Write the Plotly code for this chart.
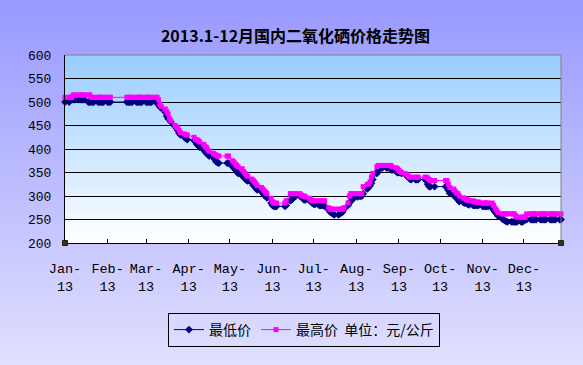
import plotly.graph_objects as go

# ---------------- data ----------------
days_jan = [4, 7, 8, 9, 10, 11, 14, 15, 16, 17, 18, 21, 22, 23, 24, 25, 28, 29, 30, 31]
low_jan = [500, 500, 505, 505, 505, 505, 505, 505, 505, 505, 505, 500, 500, 500, 500, 500, 500, 500, 500, 500]
high_jan = [510, 510, 510, 510, 515, 515, 515, 515, 515, 515, 515, 515, 515, 510, 510, 510, 510, 510, 510, 510]

days_feb = [1, 4, 5, 6, 18, 19, 20, 21, 22, 25, 26, 27, 28]
low_feb = [500, 500, 500, 500, 500, 500, 500, 500, 500, 500, 500, 500, 500]
high_feb = [510, 510, 510, 510, 510, 510, 510, 510, 510, 510, 510, 510, 510]

days_mar = [1, 4, 5, 6, 7, 8, 11, 12, 13, 14, 15, 18, 19, 20, 21, 22, 25, 26, 27, 28, 29]
low_mar = [500, 500, 500, 500, 500, 500, 500, 500, 495, 490, 487, 478, 470, 465, 462, 458, 448, 445, 440, 434, 430]
high_mar = [510, 510, 510, 510, 510, 510, 510, 510, 505, 495, 490, 485, 480, 475, 465, 460, 450, 447, 445, 440, 435]

days_apr = [1, 2, 3, 8, 9, 10, 11, 12, 15, 16, 17, 18, 19, 22, 23, 24, 25, 26]
low_apr = [425, 422, 420, 418, 415, 410, 407, 404, 398, 394, 391, 388, 385, 383, 378, 373, 371, 370]
high_apr = [432, 430, 430, 425, 420, 420, 418, 415, 410, 405, 403, 398, 395, 391, 388, 387, 385, 385]

days_may = [2, 3, 6, 7, 8, 9, 10, 13, 14, 15, 16, 17, 20, 21, 22, 23, 24, 27, 28, 29, 30, 31]
low_may = [370, 370, 362, 360, 356, 352, 348, 343, 340, 337, 334, 332, 328, 323, 320, 316, 313, 310, 306, 302, 299, 296]
high_may = [385, 385, 375, 372, 368, 365, 362, 358, 352, 348, 345, 342, 336, 333, 330, 326, 322, 318, 315, 311, 308, 305]

days_jun = [3, 4, 5, 6, 7, 13, 14, 17, 18, 19, 20, 21, 24, 25, 26, 27, 28]
low_jun = [285, 280, 278, 278, 278, 278, 280, 290, 292, 295, 300, 300, 300, 298, 295, 292, 292]
high_jun = [295, 288, 285, 285, 285, 285, 290, 305, 305, 305, 305, 305, 305, 302, 300, 300, 298]

days_jul = [1, 2, 3, 4, 5, 8, 9, 10, 11, 12, 15, 16, 17, 18, 19, 22, 23, 24, 25, 26, 29, 30, 31]
low_jul = [290, 288, 285, 283, 282, 280, 280, 280, 280, 278, 270, 266, 264, 262, 260, 260, 262, 264, 266, 272, 280, 285, 290]
high_jul = [295, 292, 290, 290, 290, 290, 290, 290, 290, 290, 275, 272, 272, 272, 272, 272, 272, 272, 272, 275, 285, 300, 305]

days_aug = [1, 2, 5, 6, 7, 8, 9, 12, 13, 14, 15, 16, 19, 20, 21, 22, 23, 26, 27, 28, 29, 30]
low_aug = [292, 295, 298, 300, 300, 300, 305, 315, 318, 322, 327, 335, 348, 355, 360, 360, 360, 360, 360, 360, 360, 355]
high_aug = [305, 305, 305, 305, 305, 305, 320, 325, 325, 330, 340, 348, 362, 365, 365, 365, 365, 365, 365, 365, 365, 362]

days_sep = [2, 3, 4, 5, 6, 9, 10, 11, 12, 13, 16, 17, 18, 23, 24, 25, 26, 27, 30]
low_sep = [352, 350, 350, 350, 348, 345, 342, 340, 336, 335, 335, 335, 335, 335, 335, 325, 320, 320, 320]
high_sep = [360, 358, 355, 352, 350, 347, 345, 342, 340, 340, 340, 340, 340, 340, 340, 338, 335, 333, 333]

days_oct = [8, 9, 10, 11, 14, 15, 16, 17, 18, 21, 22, 23, 24, 25, 28, 29, 30, 31]
low_oct = [320, 318, 312, 306, 302, 298, 296, 292, 288, 286, 285, 285, 283, 281, 280, 280, 280, 280]
high_oct = [333, 333, 325, 318, 315, 310, 306, 305, 300, 296, 295, 292, 292, 290, 290, 288, 287, 287]

days_nov = [1, 4, 5, 6, 7, 8, 11, 12, 13, 14, 15, 18, 19, 20, 21, 22, 25, 26, 27, 28, 29]
low_nov = [280, 278, 278, 278, 278, 278, 274, 270, 266, 262, 258, 252, 250, 248, 246, 245, 245, 245, 245, 245, 245]
high_nov = [287, 285, 285, 285, 285, 285, 285, 280, 274, 270, 265, 262, 262, 262, 262, 262, 262, 262, 262, 258, 255]

days_dec = [2, 3, 4, 5, 6, 9, 10, 11, 12, 13, 16, 17, 18, 19, 20, 23, 24, 25, 26, 27, 30, 31]
low_dec = [245, 245, 247, 250, 250, 250, 250, 250, 250, 250, 250, 250, 250, 250, 250, 250, 250, 250, 250, 250, 250, 250]
high_dec = [255, 255, 255, 255, 262, 262, 262, 262, 262, 262, 262, 262, 262, 262, 262, 262, 262, 262, 262, 262, 262, 262]

tick_dates = ["2013-01-04", "2013-02-04", "2013-03-04", "2013-04-04", "2013-05-04", "2013-06-04",
              "2013-07-04", "2013-08-04", "2013-09-04", "2013-10-04", "2013-11-04", "2013-12-04"]
tick_labels = ["Jan-<br>13", "Feb-<br>13", "Mar-<br>13", "Apr-<br>13", "May-<br>13", "Jun-<br>13",
               "Jul-<br>13", "Aug-<br>13", "Sep-<br>13", "Oct-<br>13", "Nov-<br>13", "Dec-<br>13"]

title_text = "2013.1-12月国内二氧化硒价格走势图"
name_low = "最低价"
name_high = "最高价  单位：元/公斤"

# ---------------- assemble ----------------
months = [
    (1, days_jan, low_jan, high_jan), (2, days_feb, low_feb, high_feb),
    (3, days_mar, low_mar, high_mar), (4, days_apr, low_apr, high_apr),
    (5, days_may, low_may, high_may), (6, days_jun, low_jun, high_jun),
    (7, days_jul, low_jul, high_jul), (8, days_aug, low_aug, high_aug),
    (9, days_sep, low_sep, high_sep), (10, days_oct, low_oct, high_oct),
    (11, days_nov, low_nov, high_nov), (12, days_dec, low_dec, high_dec),
]
dates, low, high = [], [], []
for m, ds, lo, hi in months:
    assert len(ds) == len(lo) == len(hi), m
    dates += [f"2013-{m:02d}-{d:02d}" for d in ds]
    low += lo
    high += hi

W, H = 583, 365
L, R, T, B = 65, 22, 55, 122
PW, PH = W - L - R, H - T - B


def mix(c0, c1, t):
    return "rgb(%d,%d,%d)" % tuple(round(a + (b - a) * t) for a, b in zip(c0, c1))


shapes = []
# page background gradient
n = 73
for i in range(n):
    y0 = i * H / n
    y1 = (i + 1) * H / n + 1
    shapes.append(dict(type="rect", xref="paper", yref="paper", layer="below",
                       x0=-L / PW - 0.01, x1=(W - L) / PW + 0.01,
                       y0=(H - B - y1) / PH, y1=(H - B - y0) / PH,
                       fillcolor=mix((153, 153, 255), (224, 224, 255), i / (n - 1)),
                       line=dict(width=0)))
# plot area gradient
n2 = 47
for i in range(n2):
    shapes.append(dict(type="rect", xref="paper", yref="paper", layer="below",
                       x0=0, x1=1,
                       y0=1 - (i + 1) / n2 - 0.004, y1=1 - i / n2,
                       fillcolor=mix((153, 204, 255), (255, 255, 255), i / (n2 - 1)),
                       line=dict(width=0)))
# grey top / right border
shapes.append(dict(type="line", xref="paper", yref="paper", x0=0, x1=1, y0=1, y1=1,
                   line=dict(color="#808080", width=1), layer="above"))
shapes.append(dict(type="line", xref="paper", yref="paper", x0=1, x1=1, y0=0, y1=1,
                   line=dict(color="#808080", width=1), layer="above"))
# small corner squares
for xa in (0, 1):
    shapes.append(dict(type="rect", xref="paper", yref="paper", xsizemode="pixel", ysizemode="pixel",
                       xanchor=xa, yanchor=0, x0=-2.5, x1=2.5, y0=-2.5, y1=2.5,
                       fillcolor="#333322", line=dict(color="#222211", width=1), layer="above"))

fig = go.Figure()
fig.add_trace(go.Scatter(x=dates, y=low, name=name_low, mode="lines+markers",
                         line=dict(color="#000080", width=1),
                         marker=dict(symbol="diamond", size=6, color="#000080"),
                         cliponaxis=False))
fig.add_trace(go.Scatter(x=dates, y=high, name=name_high, mode="lines+markers",
                         line=dict(color="#FF00FF", width=1),
                         marker=dict(symbol="square", size=5, color="#FF00FF"),
                         cliponaxis=False))

mono = "Liberation Mono, DejaVu Sans Mono, monospace"
fig.update_layout(
    width=W, height=H,
    margin=dict(l=L, r=R, t=T, b=B, pad=0),
    paper_bgcolor="rgb(190,190,255)",
    plot_bgcolor="rgba(0,0,0,0)",
    shapes=shapes,
    title=dict(text=title_text, x=295.5 / W, xanchor="center", xref="container",
               y=1 - 36.5 / H, yanchor="middle", yref="container",
               font=dict(family="Noto Sans CJK SC", size=16, color="#000000", weight="bold")),
    showlegend=True,
    legend=dict(orientation="h", x=(304 - L) / PW, xanchor="center",
                y=(H - B - 330) / PH, yanchor="middle",
                bgcolor="rgba(0,0,0,0)", bordercolor="#000000", borderwidth=1,
                font=dict(family="Noto Sans CJK SC", size=14, color="#000000"),
                itemwidth=30, tracegroupgap=0),
    xaxis=dict(type="date", range=["2013-01-04", "2013-12-31"],
               tickmode="array", tickvals=tick_dates, ticktext=tick_labels,
               ticks="inside", ticklen=4, tickcolor="#000000", tickwidth=1,
               showline=True, linecolor="#000000", linewidth=1,
               showgrid=False, zeroline=False, ticklabelstandoff=13,
               tickfont=dict(family=mono, size=13.5, color="#000000")),
    yaxis=dict(range=[200, 600], tick0=200, dtick=50, ticks="",
               showline=True, linecolor="#000000", linewidth=1,
               showgrid=True, gridcolor="#000000", gridwidth=1, zeroline=False,
               ticklabelstandoff=10,
               tickfont=dict(family=mono, size=13, color="#000000")),
    hovermode=False,
)

fig.write_html("out.html", config={"displayModeBar": False},
               post_script="document.body.style.margin='0px';")
